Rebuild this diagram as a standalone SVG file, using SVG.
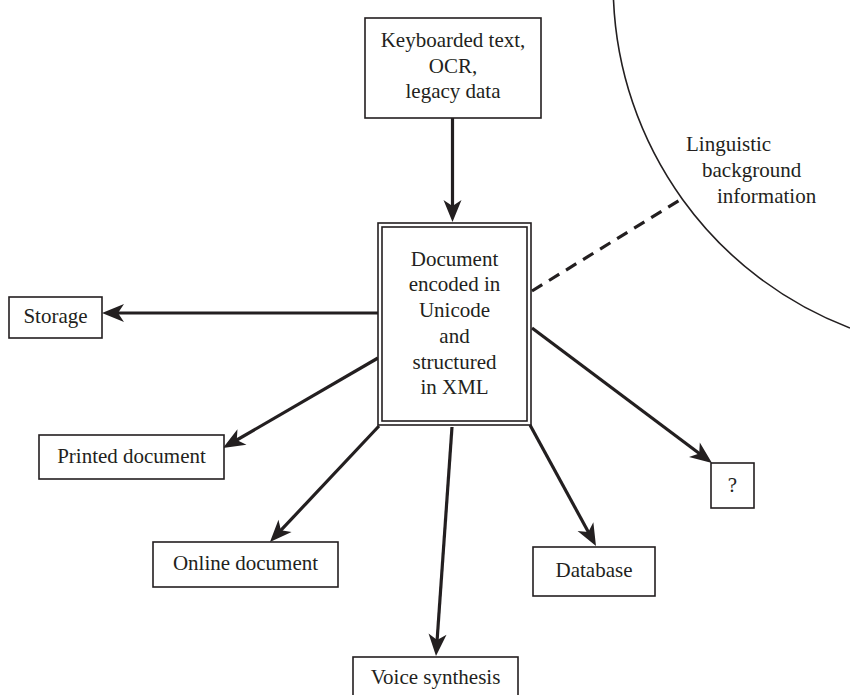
<svg xmlns="http://www.w3.org/2000/svg" width="850" height="695" viewBox="0 0 850 695">
<style>
.box{fill:#fff;stroke:#231f20;stroke-width:1.6}
.t{font-family:"Liberation Serif","Times New Roman",serif;font-size:21px;fill:#231f20;text-anchor:middle}
.ts{font-family:"Liberation Serif","Times New Roman",serif;font-size:21px;fill:#231f20}
.ar{stroke:#231f20;stroke-width:3.2;fill:none;marker-end:url(#ah)}
</style>
<defs>
<marker id="ah" markerUnits="userSpaceOnUse" markerWidth="26" markerHeight="22" viewBox="0 0 26 22" refX="13" refY="11" orient="auto">
<path d="M1,2 L23,11 L1,20 L7,11 z" fill="#231f20"/>
</marker>
</defs>
<rect width="850" height="695" fill="#fff"/>
<g id="arc">
<path d="M613.5,0 A367.5,367.5 0 0 0 850,328" fill="none" stroke="#231f20" stroke-width="1.6"/>
<text class="ts" x="686" y="151">Linguistic</text>
<text class="ts" x="702" y="177">background</text>
<text class="ts" x="717" y="203">information</text>
</g>
<g id="connectors">
<line class="ar" x1="452.5" y1="118" x2="452.5" y2="212"/>
<line class="ar" x1="378" y1="313" x2="112" y2="313"/>
<line class="ar" x1="378" y1="358" x2="231.6" y2="443"/>
<line class="ar" x1="379" y1="426" x2="276.8" y2="534.7"/>
<line class="ar" x1="452" y1="427" x2="436.7" y2="646"/>
<line class="ar" x1="530" y1="425" x2="591.2" y2="537.2"/>
<line class="ar" x1="532" y1="328" x2="704" y2="457"/>
<line x1="532" y1="291" x2="683" y2="198" stroke="#231f20" stroke-width="3.2" stroke-dasharray="12,8"/>
</g>
<g id="source">
<rect class="box" x="365" y="18" width="176" height="100"/>
<text class="t" x="453" y="47">Keyboarded text,</text>
<text class="t" x="453" y="73">OCR,</text>
<text class="t" x="453" y="98">legacy data</text>
</g>
<g id="document">
<rect class="box" x="378" y="223" width="153" height="202"/>
<rect class="box" x="382" y="227" width="145" height="194"/>
<text class="t" x="454.5" y="266">Document</text>
<text class="t" x="454.5" y="291">encoded in</text>
<text class="t" x="454.5" y="317">Unicode</text>
<text class="t" x="454.5" y="343">and</text>
<text class="t" x="454.5" y="369">structured</text>
<text class="t" x="454.5" y="394">in XML</text>
</g>
<g id="storage">
<rect class="box" x="9" y="297" width="93" height="41"/>
<text class="t" x="55.5" y="323">Storage</text>
</g>
<g id="printed">
<rect class="box" x="39" y="435" width="185" height="44"/>
<text class="t" x="131.5" y="463">Printed document</text>
</g>
<g id="online">
<rect class="box" x="153" y="542" width="185" height="45"/>
<text class="t" x="245.5" y="570">Online document</text>
</g>
<g id="voice">
<rect class="box" x="353" y="657" width="165" height="50"/>
<text class="t" x="435.5" y="684">Voice synthesis</text>
</g>
<g id="database">
<rect class="box" x="533" y="547" width="122" height="49"/>
<text class="t" x="594" y="577">Database</text>
</g>
<g id="unknown">
<rect class="box" x="711" y="463" width="43" height="45"/>
<text class="t" x="732.5" y="492">?</text>
</g>
</svg>
